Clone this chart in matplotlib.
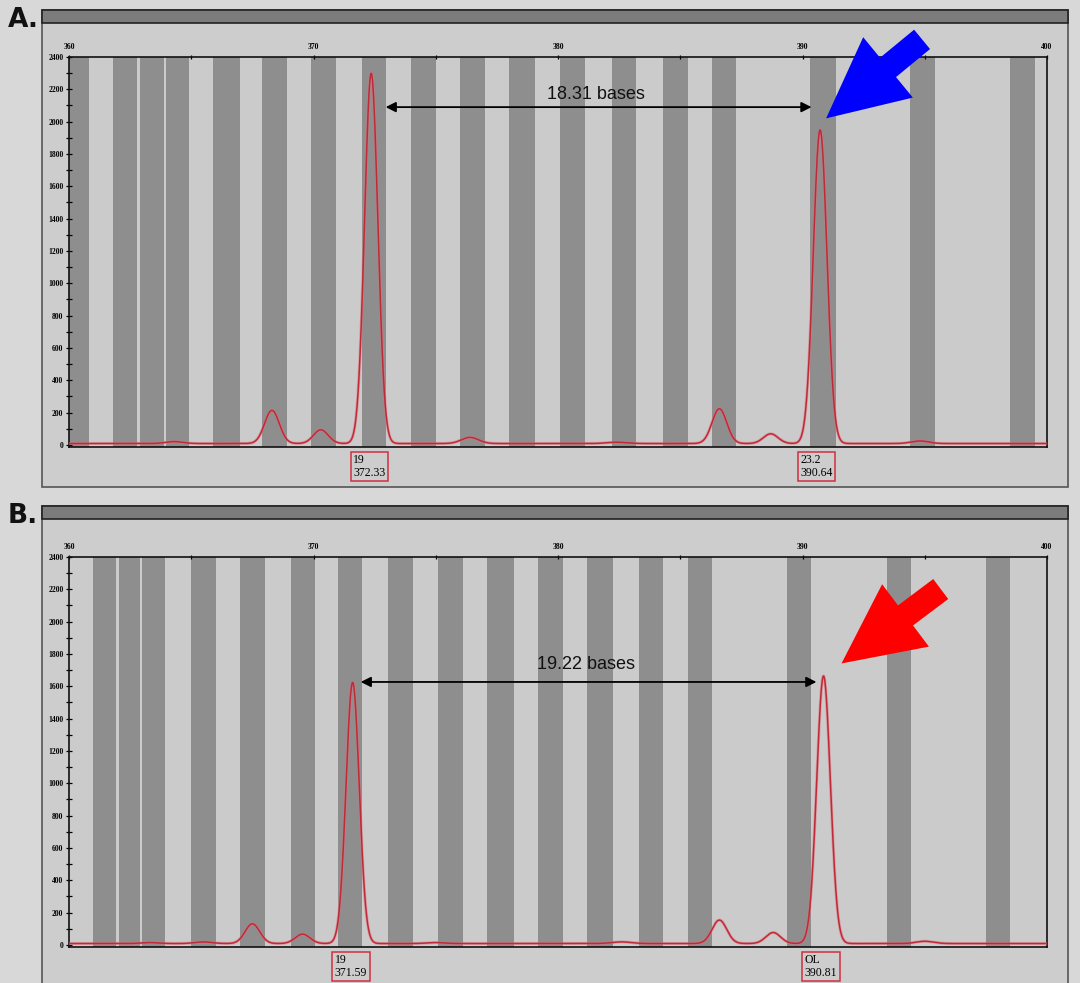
import numpy as np
import matplotlib
matplotlib.use("Agg")
import matplotlib.pyplot as plt
from matplotlib.patches import Rectangle, Polygon

W, H = 1080, 983

# bins (dark stripes), in bases
bins_a = [(360.0, 360.8), (361.8, 362.8), (362.9, 363.9), (363.95, 364.9),
          (365.9, 367.0), (367.9, 368.9), (369.9, 370.9), (372.0, 372.95),
          (374.0, 375.0), (376.0, 377.0), (378.0, 379.05), (380.1, 381.1),
          (382.2, 383.2), (384.3, 385.3), (386.3, 387.3), (390.3, 391.35),
          (394.4, 395.4), (398.5, 399.5)]
bins_b = [(360.98, 361.93), (362.05, 362.9), (362.99, 363.93), (365.0, 366.0),
          (367.0, 368.03), (369.06, 370.08), (371.0, 372.0), (373.03, 374.05),
          (375.1, 376.1), (377.1, 378.2), (379.2, 380.2), (381.2, 382.25),
          (383.3, 384.3), (385.3, 386.3), (389.35, 390.35), (393.45, 394.45),
          (397.5, 398.5)]

# peaks: position (bases), height (RFU), width (sigma, bases)
peak_pos_a = [364.3, 368.3, 370.3, 372.36, 376.4, 382.4, 386.6, 388.7, 390.72, 394.8]
peak_height_a = [12, 205, 85, 2290, 38, 8, 215, 60, 1940, 16]
peak_width_a = [0.35, 0.3, 0.3, 0.27, 0.35, 0.4, 0.3, 0.3, 0.28, 0.35]

peak_pos_b = [363.3, 365.5, 367.5, 369.55, 371.6, 375.0, 382.6, 386.6, 388.8, 390.86, 395.0]
peak_height_b = [6, 10, 122, 58, 1615, 6, 10, 145, 68, 1655, 14]
peak_width_b = [0.35, 0.35, 0.3, 0.3, 0.27, 0.35, 0.4, 0.3, 0.3, 0.28, 0.35]

baseline = 9

# called alleles
allele_a = ["19", "23.2"]
size_a = [372.33, 390.64]
allele_b = ["19", "OL"]
size_b = [371.59, 390.81]

# distance arrows
dist_text = ["18.31 bases", "19.22 bases"]
dist_x = [(372.95, 390.37), (371.93, 390.57)]
dist_y = [2090, 1627]
dist_text_y = [2170, 1732]

arrow_colors = ["#0000ff", "#ff0000"]

bin_dark = "#8e8e8e"
bin_light = "#cbcbcb"
trace_col = "#c02a36"


def px(x, y):
    return x / W, 1 - y / H


fig = plt.figure(figsize=(W / 100, H / 100), dpi=100, facecolor="#d8d8d8")

# panel frames (behind the axes)
for (top, bot) in [(10, 487), (506, 990)]:
    x0, y0 = px(42, bot)
    fig.add_artist(Rectangle((x0, y0), (1068 - 42) / W, (bot - top) / H,
                             transform=fig.transFigure, fc="#cdcdcd", ec="#555555",
                             lw=1.2, zorder=-5))
    x0, y0 = px(42, top + 13)
    fig.add_artist(Rectangle((x0, y0), (1068 - 42) / W, 13 / H,
                             transform=fig.transFigure, fc="#7c7c7c", ec="#222222",
                             lw=1.2, zorder=-4))

fig.text(8 / W, 1 - 20 / H, "A.", fontsize=19, fontweight="heavy", va="center",
         family="DejaVu Sans", color="#111111")
fig.text(8 / W, 1 - 516 / H, "B.", fontsize=19, fontweight="heavy", va="center",
         family="DejaVu Sans", color="#111111")

panels = [
    (57, bins_a, peak_pos_a, peak_height_a, peak_width_a, allele_a, size_a),
    (557, bins_b, peak_pos_b, peak_height_b, peak_width_b, allele_b, size_b),
]

x = np.linspace(360, 400, 4000)
tick_font = dict(family="Liberation Serif", fontsize=5.5, fontweight="bold")

for i, (top, bins, pp, ph, pw, alleles, sizes) in enumerate(panels):
    bot = top + 390.4
    ax = fig.add_axes([69 / W, 1 - bot / H, 978 / W, 390.4 / H])
    ax.set_facecolor(bin_light)
    for lo, hi in bins:
        ax.axvspan(lo, hi, color=bin_dark, lw=0, zorder=0)

    y = np.full_like(x, baseline, dtype=float)
    for p, h, s in zip(pp, ph, pw):
        y += h * np.exp(-0.5 * ((x - p) / s) ** 2)
    ax.plot(x, y, color="#e07080", lw=2.2, alpha=0.5, zorder=3)
    ax.plot(x, y, color=trace_col, lw=1.1, zorder=3)

    ax.set_xlim(360, 400)
    ax.set_ylim(-15, 2400)
    ax.xaxis.tick_top()
    ax.set_xticks(np.arange(360, 401, 10))
    ax.set_xticks(np.arange(365, 400, 10), minor=True)
    ax.set_yticks(np.arange(0, 2401, 200))
    ax.set_yticks(np.arange(100, 2400, 200), minor=True)
    ax.set_xticklabels([str(v) for v in range(360, 401, 10)], **tick_font)
    ax.set_yticklabels([str(v) for v in range(0, 2401, 200)], **tick_font)
    ax.tick_params(which="both", direction="inout", length=4, width=0.9, pad=2)
    ax.tick_params(axis="x", which="both", length=3, pad=3)
    for sp in ax.spines.values():
        sp.set_linewidth(1.2)
        sp.set_color("#111111")

    # allele call boxes
    for a, s in zip(alleles, sizes):
        ax.annotate(a + "\n" + "%.2f" % s, xy=(s, 0), xycoords=("data", "axes fraction"),
                    xytext=(-1, -5), textcoords="offset points", ha="center", va="top",
                    fontsize=8.5, family="Liberation Serif", multialignment="left",
                    linespacing=1.05, annotation_clip=False,
                    bbox=dict(boxstyle="square,pad=0.2", fc="none", ec="#d03040", lw=1.1))

    # distance between the two alleles
    x1, x2 = dist_x[i]
    ax.annotate("", xy=(x2, dist_y[i]), xytext=(x1, dist_y[i]),
                arrowprops=dict(arrowstyle="<|-|>", color="black", lw=1.3,
                                mutation_scale=15, shrinkA=0, shrinkB=0), zorder=5)
    ax.text((x1 + x2) / 2 - 0.1, dist_text_y[i], dist_text[i], ha="center", va="center",
            fontsize=13, family="Liberation Sans", color="#111111", zorder=5)

    # big block arrow pointing at the second allele
    k = int(np.argmax([h if p > 385 else 0 for p, h in zip(pp, ph)]))
    tip = ax.transData.transform((pp[k], ph[k]))
    if i == 0:
        tip = tip + np.array([6.0, 13.0])
        u = np.array([0.774, 0.637])
    else:
        tip = tip + np.array([18.0, 14.0])
        u = np.array([0.80, 0.60])
    v = np.array([-u[1], u[0]])
    Lh, L, Wh, Ws = 80, 124, 39, 12.5
    pts = [tip, tip + u * Lh + v * Wh, tip + u * Lh + v * Ws, tip + u * L + v * Ws,
           tip + u * L - v * Ws, tip + u * Lh - v * Ws, tip + u * Lh - v * Wh]
    pts = [(p[0] / W, p[1] / H) for p in pts]
    fig.add_artist(Polygon(pts, closed=True, transform=fig.transFigure,
                           fc=arrow_colors[i], ec="none", zorder=10))

fig.savefig("out.png", dpi=100, facecolor=fig.get_facecolor())
